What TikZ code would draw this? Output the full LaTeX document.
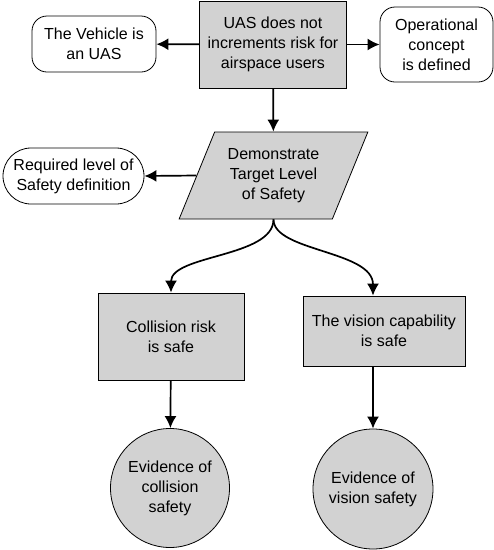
\documentclass[tikz,border=0pt]{standalone}
\usepackage{fontspec}
\setmainfont{Liberation Sans}
\usetikzlibrary{shapes.geometric,shapes.misc,arrows.meta}
\tikzset{
  goal/.style={draw, fill=gray!35, line width=0.8pt, align=center, inner sep=2pt},
  context/.style={draw, fill=white, rounded corners=15pt, line width=0.8pt, align=center, inner sep=2pt},
  flow/.style={line width=1.7pt, -{Latex[length=12pt,width=12pt]}}
}
\newcommand{\goalbox}[6]{\node[goal, minimum width=#4, minimum height=#5] (#1) at ( #2 , #3 ) {#6};}
\newcommand{\contextbox}[6]{\node[context, minimum width=#4, minimum height=#5] (#1) at ( #2 , #3 ) {#6};}
\newcommand{\evidence}[5]{\node[goal, circle, minimum size=#4] (#1) at ( #2 , #3 ) {#5};}

\begin{document}
\begin{tikzpicture}[x=1pt, y=-1pt, font=\fontsize{16}{20}\selectfont]
        \useasboundingbox (0,0) rectangle (494,550);
        % top goal
        \goalbox{uas}{273}{44.5}{147}{87}{UAS does not\\increments risk for\\airspace users}
        \contextbox{vehicle}{94}{44}{124}{56}{The Vehicle is\\an UAS}
        \contextbox{opconcept}{436.5}{44.5}{113}{75}{Operational\\concept\\is defined}
        % strategy
        \node[goal, trapezium, trapezium left angle=63.7, trapezium right angle=116.3,
              minimum width=189, minimum height=87, trapezium stretches=true]
              (tls) at (273.5,175.5) {Demonstrate\\Target Level\\of Safety};
        \node[context, sharp corners, rounded rectangle, minimum width=145, minimum height=56]
              (reqlevel) at (73.5,176) {Required level of\\Safety definition};
        % sub goals
        \goalbox{collision}{171}{336.5}{146}{87}{Collision risk\\is safe}
        \goalbox{vision}{384}{331}{162}{70}{The vision capability\\is safe}
        % evidence
        \evidence{colev}{170}{488}{119}{Evidence of\\collision\\safety}
        \evidence{visev}{373}{489}{120}{Evidence of\\vision safety}

        % arrows
        \draw[flow] (uas) -- (vehicle);
        \draw[flow] (uas) -- (opconcept);
        \draw[flow] (uas) -- (tls);
        \draw[flow] (tls.west) -- (reqlevel.east);
        \draw[flow] (tls.south) .. controls +(0,38) and +(0,-38) .. (collision.north);
        \draw[flow] (tls.south) .. controls +(0,32) and +(0,-45) .. (visev |- vision.north);
        \draw[flow] (collision) -- (colev);
        \draw[flow] (visev |- vision.south) -- (visev);
\end{tikzpicture}
\end{document}
